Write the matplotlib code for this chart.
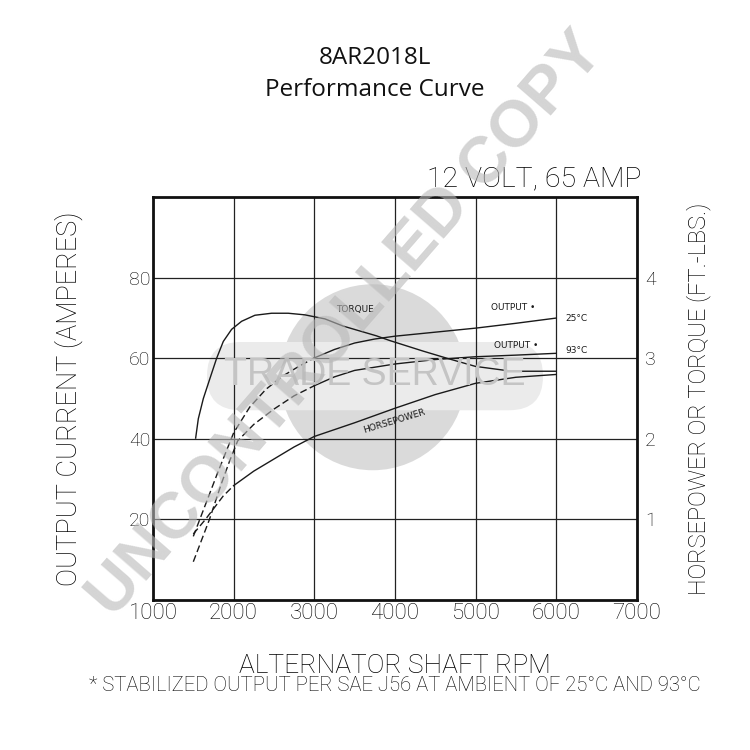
import matplotlib
matplotlib.use('Agg')
import matplotlib.pyplot as plt
from matplotlib.patches import Circle, FancyBboxPatch
import numpy as np

# values
rpm_ticks = [1000, 2000, 3000, 4000, 5000, 6000, 7000]
amp_ticks = [20, 40, 60, 80]
hp_ticks = [1, 2, 3, 4]

out25_rpm = [1500, 1580, 1800, 2000, 2200, 2400, 2600, 2800, 3000, 3250, 3500, 3750, 4000, 4500, 5000, 5500, 6000]
out25_amps = [15.8, 20, 31.5, 41.5, 47.9, 52.3, 55.5, 57.9, 60.1, 62.2, 63.8, 64.8, 65.5, 66.5, 67.5, 68.7, 70]

out93_rpm = [1500, 1700, 1850, 1950, 2050, 2250, 2500, 2750, 3000, 3250, 3500, 4000, 4500, 5000, 5500, 6000]
out93_amps = [9.5, 20, 29, 34.5, 39.5, 43.6, 47.4, 50.7, 53.2, 55.4, 57, 58.6, 59.7, 60.4, 60.8, 61.25]

torque_rpm = [1529, 1562, 1624, 1706, 1789, 1872, 1975, 2099, 2264, 2471, 2677, 2884, 3132, 3360,
              3770, 3940, 4350, 4650, 5000, 5450, 6000]
torque_ftlb = [2.01, 2.25, 2.5, 2.75, 3.0, 3.21, 3.36, 3.46, 3.535, 3.56, 3.56, 3.54, 3.49, 3.4,
               3.28, 3.22, 3.09, 3.0, 2.9, 2.84, 2.84]

hp_rpm = [1500, 1650, 1870, 2000, 2250, 2500, 2750, 3000, 3500, 4000, 4500, 5000, 5500, 6000]
hp_vals = [0.82, 1.0, 1.29, 1.42, 1.6, 1.75, 1.9, 2.03, 2.2, 2.38, 2.55, 2.69, 2.765, 2.8]

OUT_DASH_END = 3000
HP_DASH_END = 2000

TXT = '#000000'
FONT = 'Roboto'


def split_plot(axis, x, y, dash_end, **kw):
    x = np.array(x)
    y = np.array(y)
    lo = x <= dash_end
    hi = x >= dash_end
    axis.plot(x[lo], y[lo], ls=(0, (5, 2.5)), **kw)
    axis.plot(x[hi], y[hi], ls='-', **kw)


fig = plt.figure(figsize=(7.5, 7.5), dpi=100)
ax = fig.add_axes([0.204, 0.2, 0.645, 0.537])
ax.set_xlim(1000, 7000)
ax.set_ylim(0, 100)

# trade service stamp behind the grid
ax.add_patch(Circle((0.497, 0.497), 0.124, transform=fig.transFigure,
                    color='#dadada', zorder=0, lw=0))
ax.add_patch(FancyBboxPatch((0.276, 0.453), 0.448, 0.091, boxstyle='round,pad=0.0,rounding_size=0.045',
                            transform=fig.transFigure, color='#ebebeb', zorder=0.5, lw=0))
fig.text(0.5, 0.5, 'TRADE SERVICE', ha='center', va='center', fontsize=27,
         family='Liberation Sans', color='#c4c4c4', zorder=0.6)

ax.set_xticks(rpm_ticks)
ax.set_yticks(amp_ticks)
ax.grid(True, color='#222222', lw=0.9)
ax.set_axisbelow(True)
ax.tick_params(length=0)
ax.tick_params(axis='x', pad=2, labelsize=16, labelcolor=TXT)
ax.tick_params(axis='y', pad=2, labelsize=14, labelcolor=TXT)
for lab in ax.get_xticklabels() + ax.get_yticklabels():
    lab.set_family(FONT)
    lab.set_fontweight('light')
for sp in ax.spines.values():
    sp.set_linewidth(2)
    sp.set_color('#111111')

ax2 = ax.twinx()
ax2.set_ylim(0, 5)
ax2.set_yticks(hp_ticks)
ax2.tick_params(length=0, pad=6, labelsize=14, labelcolor=TXT)
for lab in ax2.get_yticklabels():
    lab.set_family(FONT)
    lab.set_fontweight('light')
for sp in ax2.spines.values():
    sp.set_visible(False)

line_kw = dict(color='#1a1a1a', lw=1.0)
split_plot(ax, out25_rpm, out25_amps, OUT_DASH_END, **line_kw)
split_plot(ax, out93_rpm, out93_amps, OUT_DASH_END, **line_kw)
ax2.plot(torque_rpm, torque_ftlb, **line_kw)
split_plot(ax2, hp_rpm, hp_vals, HP_DASH_END, **line_kw)

small = dict(fontsize=6.5, color='#1a1a1a', family='DejaVu Sans')
ax.text(3500, 72.2, 'TORQUE', ha='center', va='center', **small)
ax.text(3990, 44.4, 'HORSEPOWER', ha='center', va='center', rotation=17, **small)
ax.text(5470, 72.7, 'OUTPUT \u2022', ha='center', va='center', **small)
ax.text(5500, 63.2, 'OUTPUT \u2022', ha='center', va='center', **small)
ax.text(6110, 69.8, '25\u00b0C', ha='left', va='center', **small)
ax.text(6110, 61.9, '93\u00b0C', ha='left', va='center', **small)

lbl = dict(family=FONT, fontweight='light', color=TXT)
ax.set_xlabel('ALTERNATOR SHAFT RPM', fontsize=19, labelpad=22, **lbl)
ax.set_ylabel('OUTPUT CURRENT (AMPERES)', fontsize=19.5, labelpad=33, **lbl)
ax2.set_ylabel('HORSEPOWER OR TORQUE (FT.-LBS.)', fontsize=17, labelpad=22, rotation=90, **lbl)

fig.text(0.855, 0.762, '12 VOLT, 65 AMP', ha='right', va='center', fontsize=20.5, **lbl)
fig.text(0.526, 0.086, '* STABILIZED OUTPUT PER SAE J56 AT AMBIENT OF 25\u00b0C AND 93\u00b0C',
         ha='center', va='center', fontsize=14.6, **lbl)

fig.text(0.5, 0.922, '8AR2018L', ha='center', va='center', fontsize=17.5,
         family='Open Sans', color='#111111')
fig.text(0.5, 0.88, 'Performance Curve', ha='center', va='center', fontsize=17.5,
         family='Open Sans', color='#111111')

# "UNCONTROLLED COPY" watermark across the whole sheet
fig.text(0.463, 0.566, 'UNCONTROLLED COPY', ha='center', va='center', rotation=49,
         rotation_mode='anchor', fontsize=47, fontweight='bold', family='Liberation Sans',
         color='#b8b8b8', alpha=0.6, zorder=10)

fig.savefig('out.png', dpi=100)
